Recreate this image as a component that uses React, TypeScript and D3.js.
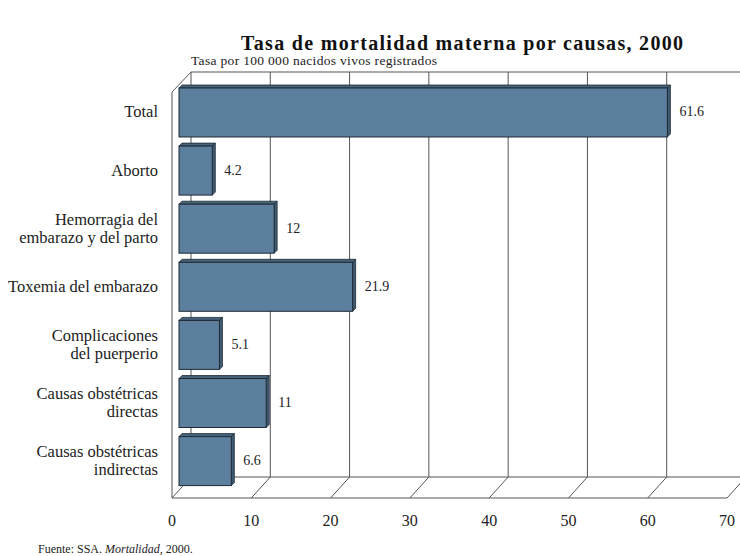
import React from "react";
import * as d3 from "d3";

const categories: string[][] = [
  ["Total"],
  ["Aborto"],
  ["Hemorragia del", "embarazo y del parto"],
  ["Toxemia del embarazo"],
  ["Complicaciones", "del puerperio"],
  ["Causas obstétricas", "directas"],
  ["Causas obstétricas", "indirectas"],
];
const values: number[] = [61.6, 4.2, 12, 21.9, 5.1, 11, 6.6];
const valueLabels: string[] = ["61.6", "4.2", "12", "21.9", "5.1", "11", "6.6"];
const ticks: number[] = [0, 10, 20, 30, 40, 50, 60, 70];

const W = 740;
const H = 556;
const FONT = "'Liberation Serif', 'Times New Roman', serif";

export default function App() {
  const x = d3.scaleLinear().domain([0, 70]).range([172, 727]);
  const keys = categories.map((c) => c.join(" "));
  const y = d3.scaleBand().domain(keys).range([88, 485.6]).paddingInner(0.157).paddingOuter(0);

  const depthX = 19;
  const depthY = 21;
  const floorY = 498;
  const topY = 72;
  const barOff = 7; // bars sit slightly inside the box
  const bd = 3; // bar depth
  const gridColor = "#555";

  const fill = "#5b7f9c";
  const side = "#3e5b72";
  const topc = "#46647c";
  const stroke = "#1f2a35";

  return (
    <svg width={W} height={H} style={{ position: "absolute", left: 0, top: 0, background: "#fff" }}>
      <text x={241} y={50} textLength={442} lengthAdjust="spacing" fontFamily={FONT} fontWeight="bold" fontSize={20} fill="#111">
        Tasa de mortalidad materna por causas, 2000
      </text>
      <text x={191} y={65} textLength={246} lengthAdjust="spacing" fontFamily={FONT} fontSize={13.5} fill="#222">
        Tasa por 100 000 nacidos vivos registrados
      </text>

      {/* back wall top line */}
      <line x1={x(0) + depthX} y1={topY} x2={x(70) + depthX} y2={topY} stroke={gridColor} strokeWidth={1} />
      {/* back wall verticals / gridlines */}
      {ticks.map((t) => (
        <line key={"g" + t} x1={x(t) + depthX} y1={topY} x2={x(t) + depthX} y2={floorY - depthY} stroke={gridColor} strokeWidth={1} />
      ))}
      {/* left wall */}
      <line x1={x(0)} y1={topY + depthY - 1} x2={x(0) + depthX} y2={topY} stroke={gridColor} strokeWidth={1} />
      <line x1={x(0)} y1={topY + depthY - 1} x2={x(0)} y2={floorY} stroke={gridColor} strokeWidth={1} />
      {/* floor */}
      <line x1={x(0) + depthX} y1={floorY - depthY} x2={x(70) + depthX} y2={floorY - depthY} stroke={gridColor} strokeWidth={1} />
      <line x1={x(0)} y1={floorY} x2={x(70)} y2={floorY} stroke={gridColor} strokeWidth={1} />
      {ticks.map((t) => (
        <line key={"f" + t} x1={x(t)} y1={floorY} x2={x(t) + depthX} y2={floorY - depthY} stroke={gridColor} strokeWidth={1} />
      ))}

      {/* bars */}
      {values.map((v, i) => {
        const k = keys[i];
        const y0 = y(k)!;
        const h = y.bandwidth();
        const x0 = x(0) + barOff;
        const x1 = x(v) + barOff;
        return (
          <g key={k}>
            <polygon
              points={`${x0},${y0} ${x0 + bd},${y0 - bd} ${x1 + bd},${y0 - bd} ${x1},${y0}`}
              fill={topc}
              stroke={stroke}
              strokeWidth={0.8}
            />
            <polygon
              points={`${x1},${y0} ${x1 + bd},${y0 - bd} ${x1 + bd},${y0 + h - bd} ${x1},${y0 + h}`}
              fill={side}
              stroke={stroke}
              strokeWidth={0.8}
            />
            <rect x={x0} y={y0} width={x1 - x0} height={h} fill={fill} stroke={stroke} strokeWidth={1} />
            <text x={x1 + 12} y={y0 + h / 2 + 4} fontFamily={FONT} fontSize={14} fill="#222">
              {valueLabels[i]}
            </text>
          </g>
        );
      })}

      {/* category labels */}
      {categories.map((lines, i) => {
        const k = keys[i];
        const cy = y(k)! + y.bandwidth() / 2;
        const lh = 18;
        const start = cy - ((lines.length - 1) * lh) / 2 + 5;
        return (
          <text key={"c" + k} textAnchor="end" fontFamily={FONT} fontSize={16.5} fill="#222">
            {lines.map((l, j) => (
              <tspan key={j} x={158} y={start + j * lh}>
                {l}
              </tspan>
            ))}
          </text>
        );
      })}

      {/* tick labels */}
      {ticks.map((t) => (
        <text key={"t" + t} x={x(t)} y={526} textAnchor="middle" fontFamily={FONT} fontSize={16} fill="#222">
          {t}
        </text>
      ))}

      <text x={38} y={553} fontFamily={FONT} fontSize={12} fill="#222">
        Fuente: SSA. <tspan fontStyle="italic">Mortalidad</tspan>, 2000.
      </text>
    </svg>
  );
}
